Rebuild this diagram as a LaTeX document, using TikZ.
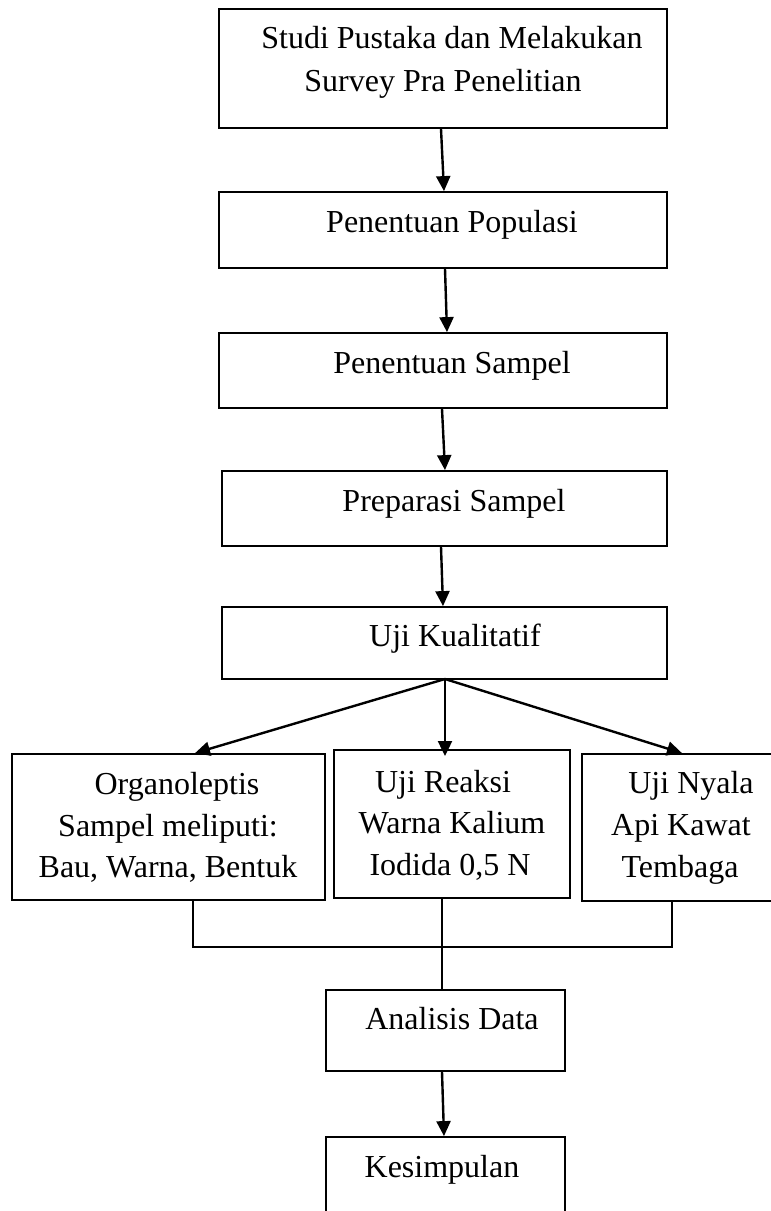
\documentclass[tikz,border=0pt]{standalone}
\usepackage{fontspec}
\setmainfont{Liberation Serif}
\usetikzlibrary{arrows.meta}
\begin{document}
\begin{tikzpicture}[x=1pt,y=-1pt,
  boxshape/.style={draw,line width=1.8pt},
  txt/.style={anchor=base,inner sep=0pt,font=\fontsize{32}{40}\selectfont},
  flow/.style={line width=2.4pt,-{Triangle[length=15pt,width=14pt]}},
  joinline/.style={line width=1.6pt}]
\useasboundingbox (0,0) rectangle (771,1211);
% boxes
\node[boxshape,minimum width=448pt,minimum height=119pt] (b1) at (443,68.5) {};
\node[boxshape,minimum width=448pt,minimum height=76pt] (b2) at (443,230) {};
\node[boxshape,minimum width=448pt,minimum height=75pt] (b3) at (443,370.5) {};
\node[boxshape,minimum width=445pt,minimum height=75pt] (b4) at (444.5,508.5) {};
\node[boxshape,minimum width=445pt,minimum height=72pt] (b5) at (444.5,643) {};
\node[boxshape,minimum width=313pt,minimum height=146pt] (b6) at (168.5,827) {};
\node[boxshape,minimum width=236pt,minimum height=148pt] (b7) at (452,824) {};
\node[boxshape,minimum width=200pt,minimum height=147pt] (b8) at (682,827.5) {};
\node[boxshape,minimum width=239pt,minimum height=81pt] (b9) at (445.5,1030.5) {};
\node[boxshape,minimum width=239pt,minimum height=80pt] (b10) at (445.5,1177) {};
% texts
\node[txt] (t1a) at (452,48) {Studi Pustaka dan Melakukan};
\node[txt] (t1b) at (443,91) {Survey Pra Penelitian};
\node[txt] (t2) at (452,232) {Penentuan Populasi};
\node[txt] (t3) at (452,373) {Penentuan Sampel};
\node[txt] (t4) at (454,511) {Preparasi Sampel};
\node[txt] (t5) at (455,646) {Uji Kualitatif};
\node[txt] (t6a) at (177,794) {Organoleptis};
\node[txt] (t6b) at (168,836) {Sampel meliputi:};
\node[txt] (t6c) at (168,877) {Bau, Warna, Bentuk};
\node[txt] (t7a) at (443,792) {Uji Reaksi};
\node[txt] (t7b) at (452,833) {Warna Kalium};
\node[txt] (t7c) at (450,875) {Iodida 0,5 N};
\node[txt] (t8a) at (691,793) {Uji Nyala};
\node[txt] (t8b) at (681,835) {Api Kawat};
\node[txt] (t8c) at (680,877) {Tembaga};
\node[txt] (t9) at (452,1029) {Analisis Data};
\node[txt] (t10) at (442,1177) {Kesimpulan};
% connector points
\coordinate (s5) at (445,679);
\coordinate (jl) at (193,947);
\coordinate (jr) at (672,947);
\coordinate (jm) at (442,947);
% arrows
\draw[flow] (b1.south -| 441,0) -- (b2.north -| 444,0);
\draw[flow] (b2.south -| 445,0) -- (b3.north -| 447,0);
\draw[flow] (b3.south -| 442,0) -- (b4.north -| 445,0);
\draw[flow] (b4.south -| 441,0) -- (b5.north -| 443,0);
\draw[flow] (s5) -- (b6.north -| 195,0);
\draw[flow] (s5) -- (445,756);
\draw[flow] (s5) -- (b8.north -| 682,0);
\draw[flow] (b9.south -| 442,0) -- (b10.north -| 444,0);
% joining lines
\draw[joinline] (b6.south -| jl) -- (jl) -- (jr) -- (b8.south -| jr);
\draw[joinline] (b7.south -| jm) -- (b9.north -| jm);
\end{tikzpicture}
\end{document}
